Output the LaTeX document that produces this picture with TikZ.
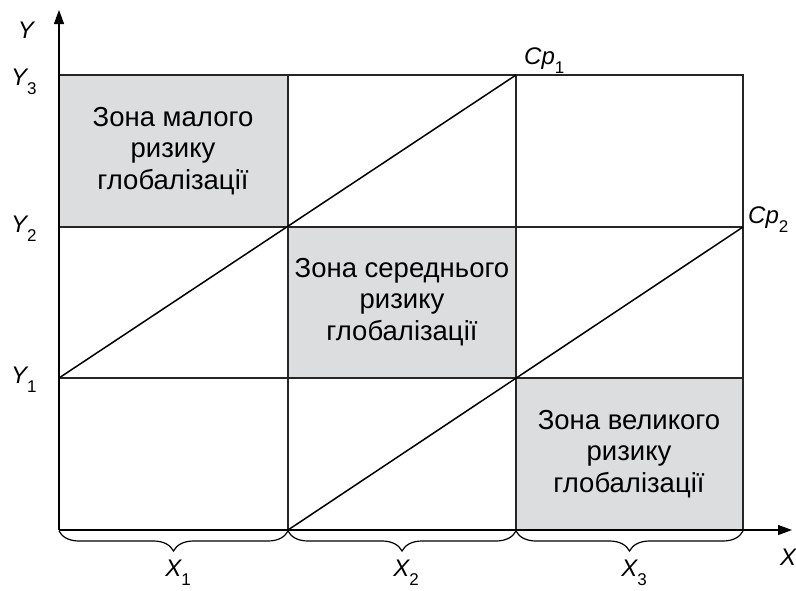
\documentclass[tikz,border=0pt]{standalone}
\usepackage{fontspec}
\setmainfont{Liberation Sans}
\usetikzlibrary{decorations.pathreplacing,arrows.meta}
\definecolor{zonegrey}{HTML}{DCDDDF}
\newcommand\lowsub[1]{\raisebox{-9.5pt}{\fontsize{17}{17}\selectfont\upshape #1}}
\begin{document}
\begin{tikzpicture}[x=1pt,y=-1pt,
  gridline/.style={line width=1.2pt,draw=black!85},
  diag/.style={line width=1.5pt},
  axis/.style={line width=1.2pt,-{Triangle[length=14pt,width=10pt]}},
  zone/.style={fill=zonegrey},
  zonetext/.style={align=center,font=\fontsize{27.5}{31.5}\selectfont,inner sep=0pt},
  lab/.style={font=\fontsize{24}{26}\selectfont\itshape,inner sep=1pt},
  brc/.style={decorate,decoration={brace,amplitude=20pt,mirror,raise=1pt},line width=1.2pt}]
\useasboundingbox (0,0) rectangle (796,590);
% coordinates
\coordinate (o) at (59,530);
\coordinate (a1) at (288,530);
\coordinate (a2) at (516,530);
\coordinate (a3) at (743,530);
\coordinate (y1) at (59,378);
\coordinate (y2) at (59,227);
\coordinate (y3) at (59,75);
\coordinate (cp1) at (516,75);
\coordinate (cp2) at (743,227);
% grey zones
\fill[zone] (59,75) rectangle (288,227);
\fill[zone] (288,227) rectangle (516,378);
\fill[zone] (516,378) rectangle (743,530);
% grid
\draw[gridline] (59,75) -- (743,75) -- (743,530);
\draw[gridline] (59,227) -- (743,227);
\draw[gridline] (59,378) -- (743,378);
\draw[gridline] (288,75) -- (288,530);
\draw[gridline] (516,75) -- (516,530);
% axes
\draw[axis] (o) -- (59,10) coordinate (ytip);
\draw[axis] (o) -- (792,530) coordinate (xtip);
\draw[line width=2pt] (o) -- (a3);
% diagonals
\draw[diag] (y1) -- (cp1);
\draw[diag] (a1) -- (cp2);
% zone texts
\node[zonetext] (z1) at (173,151) {Зона малого\\ризику\\глобалізації};
\node[zonetext] (z2) at (402,302) {Зона середнього\\ризику\\глобалізації};
\node[zonetext] (z3) at (629,454) {Зона великого\\ризику\\глобалізації};
% labels
\node[lab,anchor=base] (ly) at (26,38) {Y};
\node[lab,anchor=base west] (ly3) at (10,85) {Y\lowsub{3}};
\node[lab,anchor=base west] (ly2) at (10,232) {Y\lowsub{2}};
\node[lab,anchor=base west] (ly1) at (10,383) {Y\lowsub{1}};
\node[lab,anchor=base west] (lcp1) at (523,64) {Cp\lowsub{1}};
\node[lab,anchor=base west] (lcp2) at (747,223) {Cp\lowsub{2}};
\node[lab,anchor=base west] (lx) at (779,565) {X};
% braces
\draw[brc] (o) -- (a1);
\draw[brc] (a1) -- (a2);
\draw[brc] (a2) -- (a3);
\node[lab,anchor=base] (lx1) at (178,576) {X\lowsub{1}};
\node[lab,anchor=base] (lx2) at (406,576) {X\lowsub{2}};
\node[lab,anchor=base] (lx3) at (634,576) {X\lowsub{3}};
\end{tikzpicture}
\end{document}
